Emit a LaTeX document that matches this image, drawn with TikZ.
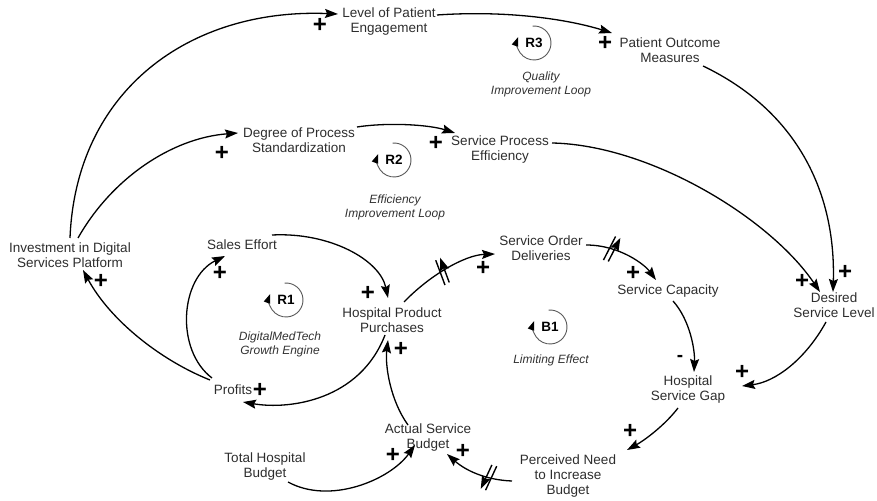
\documentclass[tikz,border=0pt]{standalone}
\usepackage{fontspec}
\setmainfont{Liberation Sans}
\usetikzlibrary{arrows.meta,calc,decorations.markings}
\definecolor{txt}{RGB}{45,45,45}
\definecolor{lbl}{RGB}{50,50,50}
\tikzset{
  var/.style={align=center,inner sep=1pt,text=txt,font=\fontsize{13.5}{15}\selectfont},
  lname/.style={align=center,inner sep=1pt,text=lbl,font=\fontsize{12}{14}\selectfont\itshape},
  lsym/.style={inner sep=0pt,text=black,font=\fontsize{13.5}{14}\selectfont\bfseries},
  loopline/.style={draw=black!65,line width=0.9pt,-{Stealth[length=9pt,width=6.5pt,inset=0pt,fill=black,color=black]}},
  link/.style={draw=black,line width=1.3pt,-{Stealth[length=13pt,width=9pt,inset=2pt]}},
  pol/.style={inner sep=0pt,text=black,font=\fontsize{24}{24}\selectfont\bfseries},
  neg/.style={inner sep=0pt,text=black,font=\fontsize{19}{19}\selectfont\bfseries},
  delay/.style={postaction={decorate,decoration={markings,mark=at position #1 with {\draw[line width=1.4pt,black] (-3pt,-13pt)--(2pt,13pt) (2pt,-13pt)--(7pt,13pt);}}}}
}
\begin{document}
\begin{tikzpicture}[x=1pt,y=1pt]
\useasboundingbox (0,0) rectangle (877,500);
% variables
\node[var] (LPE) at (389,478) {Level of Patient\\Engagement};
\node[var] (POM) at (670,450) {Patient Outcome\\Measures};
\node[var] (DPS) at (299,360) {Degree of Process\\Standardization};
\node[var] (SPE) at (500,350) {Service Process\\Efficiency};
\node[var] (IDSP) at (70,245) {Investment in Digital\\Services Platform};
\node[var] (SE) at (242,255) {Sales Effort};
\node[var] (HPP) at (392,180) {Hospital Product\\Purchases};
\node[var] (PR) at (233,110) {Profits};
\node[var] (SOD) at (541,252) {Service Order\\Deliveries};
\node[var] (SC) at (668,209) {Service Capacity};
\node[var] (DSL) at (834,195) {Desired\\Service Level};
\node[var] (HSG) at (688,110) {Hospital\\Service Gap};
\node[var] (ASB) at (428,62) {Actual Service\\Budget};
\node[var] (THB) at (265,33) {Total Hospital\\Budget};
\node[var] (PNB) at (568,24) {Perceived Need\\to Increase\\Budget};
% loop symbols
\node[lsym] (R3) at (534,457) {R3};
\node[lsym] (R2) at (394,340) {R2};
\node[lsym] (R1) at (286,200) {R1};
\node[lsym] (B1) at (550,173) {B1};
\foreach \L in {R3,R2,R1,B1}{
  \draw[loopline] ([shift={(95:17)}]\L.center) arc[start angle=95,end angle=-200,radius=17];
}
\node[lname] (R3n) at (541,416) {Quality\\Improvement Loop};
\node[lname] (R2n) at (395,293) {Efficiency\\Improvement Loop};
\node[lname] (R1n) at (280,156) {DigitalMedTech\\Growth Engine};
\node[lname] (B1n) at (551,140) {Limiting Effect};
% links
\draw[link] ($(IDSP)+(0,17)$) .. controls (76,410) and (190,492) .. ($(LPE)+(-51,8)$);
\draw[link] ($(IDSP)+(8,17)$) .. controls (112,322) and (172,362) .. ($(DPS)+(-61,7)$);
\draw[link] ($(LPE)+(48,7)$) .. controls (510,490) and (570,480) .. ($(POM)+(-58,17)$);
\draw[link] ($(DPS)+(58,13)$) .. controls (390,378) and (430,375) .. ($(SPE)+(-45,17)$);
\draw[link] ($(POM)+(33,-16)$) .. controls (795,390) and (836,310) .. ($(DSL)+(-1,13)$);
\draw[link] ($(SPE)+(52,7)$) .. controls (650,355) and (770,282) .. ($(DSL)+(-14,13)$);
\draw[link] ($(PR)+(-23,10)$) .. controls (160,140) and (110,180) .. ($(IDSP)+(13,-15)$);
\draw[link] ($(PR)+(-21,12)$) .. controls (175,150) and (180,222) .. ($(SE)+(-17,-11)$);
\draw[link] ($(SE)+(30,10)$) .. controls (330,268) and (380,240) .. ($(HPP)+(-4,22)$);
\draw[link] ($(HPP)+(-7,-15)$) .. controls (360,100) and (290,90) .. ($(PR)+(10,-12)$);
\draw[link,delay=0.45] ($(HPP)+(12,18)$) .. controls (430,225) and (465,245) .. ($(SOD)+(-46,-6)$);
\draw[link,delay=0.3] ($(SOD)+(45,3)$) .. controls (620,255) and (645,235) .. ($(SC)+(-12,11)$);
\draw[link] ($(SC)+(5,-10)$) .. controls (690,180) and (695,150) .. ($(HSG)+(6,18)$);
\draw[link] ($(DSL)+(-8,-17)$) .. controls (805,140) and (775,118) .. ($(HSG)+(54,4)$);
\draw[link] ($(HSG)+(-10,-18)$) .. controls (665,75) and (645,60) .. ($(PNB)+(59,26)$);
\draw[link,delay=0.3] ($(PNB)+(-56,-5)$) .. controls (485,20) and (465,30) .. ($(ASB)+(19,-16)$);
\draw[link] ($(THB)+(23,-15)$) .. controls (330,-5) and (390,20) .. ($(ASB)+(-13,-7)$);
\draw[link] ($(ASB)+(-20,13)$) .. controls (390,100) and (385,135) .. ($(HPP)+(-4,-20)$);
% polarities
\node[pol] (p1) at (320,475) {+};
\node[pol] (p2) at (222,347) {+};
\node[pol] (p3) at (605,457) {+};
\node[pol] (p4) at (436,357) {+};
\node[pol] (p5) at (845,228) {+};
\node[pol] (p6) at (802,219) {+};
\node[pol] (p7) at (101,219) {+};
\node[pol] (p8) at (220,227) {+};
\node[pol] (p9) at (368,207) {+};
\node[pol] (p10) at (260,110) {+};
\node[pol] (p11) at (483,232) {+};
\node[pol] (p12) at (633,227) {+};
\node[neg] (p13) at (680,142) {-};
\node[pol] (p14) at (742,128) {+};
\node[pol] (p15) at (630,69) {+};
\node[pol] (p16) at (463,49) {+};
\node[pol] (p17) at (393,45) {+};
\node[pol] (p18) at (401,151) {+};
\end{tikzpicture}
\end{document}
